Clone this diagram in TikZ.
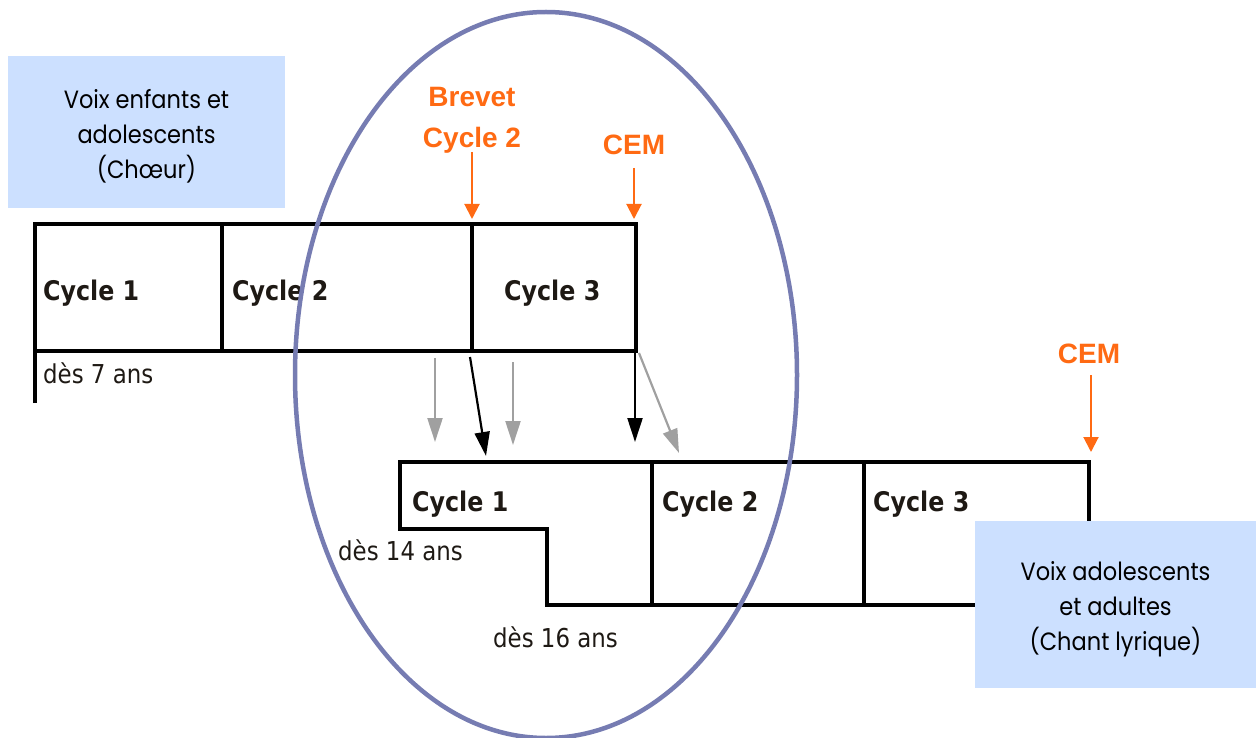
\documentclass[tikz,border=0pt]{standalone}
\usepackage{fontspec}
\usetikzlibrary{arrows.meta}
\newfontfamily\boxfont[FakeStretch=0.9]{Poppins}
\newfontfamily\cycfont[FakeStretch=0.88]{DejaVu Sans}
\newfontfamily\orfont{Liberation Sans}
\definecolor{boxblue}{RGB}{204,224,255}
\definecolor{orng}{RGB}{255,106,19}
\definecolor{ellc}{RGB}{118,124,178}
\definecolor{grayarr}{RGB}{160,160,160}
\definecolor{txtdark}{RGB}{30,25,20}
\begin{document}
\begin{tikzpicture}[x=1pt,y=-1pt,
  frame/.style={line width=4.5pt, line join=miter, draw=black},
  bluebox/.style={fill=boxblue, draw=none, inner sep=0pt, align=center,
    font=\boxfont\fontsize{25}{35}\selectfont, text=black},
  cyc/.style={font=\cycfont\bfseries\fontsize{27}{30}\selectfont, text=txtdark, inner sep=0pt, anchor=base west},
  age/.style={font=\cycfont\fontsize{26}{30}\selectfont, text=txtdark, inner sep=0pt, anchor=base west},
  orlabel/.style={font=\orfont\bfseries\fontsize{28}{41}\selectfont, text=orng, inner sep=0pt, anchor=base, align=center},
  orarrow/.style={draw=orng, line width=2pt, -{Triangle[width=15pt,length=15pt]}},
  grayarrow/.style={draw=grayarr, line width=2.2pt, -{Triangle[width=15pt,length=24pt]}},
  blackarrow/.style={draw=black, line width=2.2pt, -{Triangle[width=15pt,length=24pt]}},
  ring/.style={draw=ellc, line width=4.5pt}
]
\useasboundingbox (0,0) rectangle (1256,738);

% top-left blue box
\fill[boxblue] (8,56) rectangle (285,208);
\node[bluebox, fill=none] (bleft) at (146.5,136)
  {Voix enfants et\\adolescents\\(Chœur)};

% row 1 frame
\draw[frame] (35,403) -- (35,224) -- (636,224) -- (636,351) -- (35,351);
\draw[frame] (222,224) -- (222,351);
\draw[frame] (472,224) -- (472,351);
\node[cyc] (a1) at (43,301) {Cycle 1};
\node[cyc] (a2) at (232,301) {Cycle 2};
\node[cyc] (a3) at (504,301) {Cycle 3};
\node[age] (a7) at (43,383) {dès 7 ans};

% orange labels
\node[orlabel] (brevet) at (472,148) {Brevet\\Cycle 2};
\node[orlabel] (cem1) at (634,155) {CEM};
\node[orlabel] (cem2) at (1089,363) {CEM};
\coordinate (b0) at (472,152); \coordinate (b1) at (472,219);
\coordinate (c0) at (634,168); \coordinate (c1) at (634,219);
\coordinate (d0) at (1091,375); \coordinate (d1) at (1091,452);
\draw[orarrow] (b0) -- (b1);
\draw[orarrow] (c0) -- (c1);
\draw[orarrow] (d0) -- (d1);

% arrows between rows
\coordinate (g1s) at (435,358); \coordinate (g1e) at (435,442);
\coordinate (k1s) at (470,357); \coordinate (k1e) at (486,456);
\coordinate (g2s) at (513,362); \coordinate (g2e) at (513,445);
\coordinate (k2s) at (635,352); \coordinate (k2e) at (635,442);
\coordinate (g3s) at (639,353); \coordinate (g3e) at (679,453);
\draw[grayarrow] (g1s) -- (g1e);
\draw[blackarrow] (k1s) -- (k1e);
\draw[grayarrow] (g2s) -- (g2e);
\draw[blackarrow] (k2s) -- (k2e);
\draw[grayarrow] (g3s) -- (g3e);

% row 2 frame
\draw[frame] (400,462) -- (1089,462) -- (1089,605) -- (547,605) -- (547,529) -- (400,529) -- cycle;
\draw[frame] (652,462) -- (652,605);
\draw[frame] (864,462) -- (864,605);
\node[cyc] (b1t) at (412,511) {Cycle 1};
\node[cyc] (b2t) at (662,511) {Cycle 2};
\node[cyc] (b3t) at (873,511) {Cycle 3};
\node[age] (a14) at (338,560) {dès 14 ans};
\node[age] (a16) at (493,647) {dès 16 ans};

% ellipse
\draw[ring] (546,375) ellipse [x radius=251, y radius=363];

% bottom-right blue box
\fill[boxblue] (975,521) rectangle (1256,688);
\node[bluebox, fill=none] (bright) at (1115.5,609)
  {Voix adolescents\\et adultes\\(Chant lyrique)};
\end{tikzpicture}
\end{document}
